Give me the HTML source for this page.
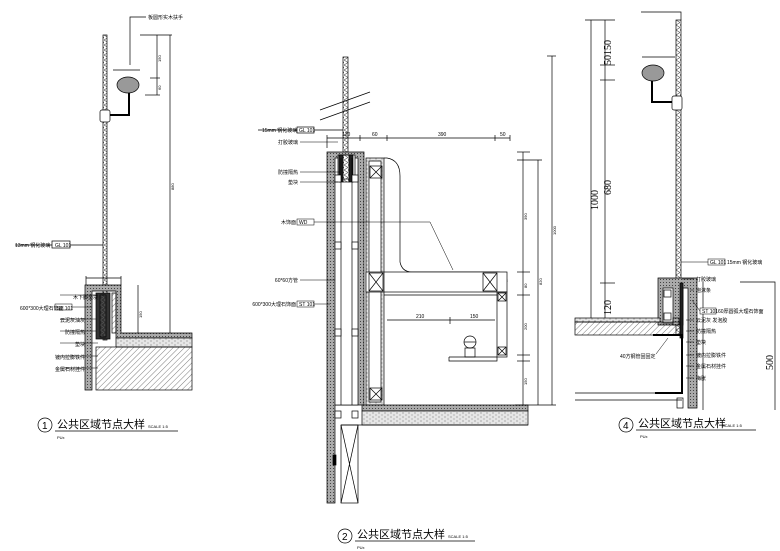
<!DOCTYPE html>
<html><head><meta charset="utf-8"><style>
html,body{margin:0;padding:0;background:#fff;}
svg{display:block;}
text{font-family:"Liberation Sans","Noto Sans CJK SC",sans-serif;fill:#000;}
</style></head><body>
<svg width="780" height="551" viewBox="0 0 780 551" xmlns="http://www.w3.org/2000/svg">
<defs>
<pattern id="h" width="4" height="4" patternUnits="userSpaceOnUse" patternTransform="rotate(45)"><line x1="0" y1="0" x2="0" y2="4" stroke="#444" stroke-width="0.7"/></pattern>
<pattern id="g" width="3" height="3" patternUnits="userSpaceOnUse"><rect width="3" height="3" fill="#aaa"/><rect width="1" height="1" fill="#444"/></pattern>
<pattern id="z" width="4" height="5" patternUnits="userSpaceOnUse"><path d="M0 0 L4 2.5 L0 5" fill="none" stroke="#555" stroke-width="0.6"/></pattern>
<pattern id="d" width="6" height="4" patternUnits="userSpaceOnUse"><rect width="6" height="4" fill="#e6e6e6"/><circle cx="1" cy="1" r="0.5" fill="#444"/><circle cx="4" cy="3" r="0.5" fill="#666"/></pattern>
</defs>
<g stroke="#000" stroke-width="0.7" fill="none">
<!-- ========== Drawing 1 ========== -->
<rect x="103" y="35" width="4" height="305" fill="url(#z)"/>
<polyline points="130,65 130,17 146,17"/>
<ellipse cx="128" cy="85" rx="11" ry="8" fill="#999"/>
<polyline points="129,93 129,115 110,115" stroke-width="2"/>
<rect x="100" y="110" width="10" height="12" rx="2" fill="#fff"/>
<line x1="157" y1="35" x2="157" y2="95"/><line x1="140" y1="35" x2="172" y2="35"/>
<line x1="150" y1="78" x2="160" y2="78"/><line x1="145" y1="95" x2="160" y2="95"/>
<line x1="170" y1="35" x2="170" y2="333"/>
<line x1="113" y1="70" x2="140" y2="70"/>
<line x1="15" y1="245" x2="103" y2="245"/>
<rect x="52" y="241" width="18" height="7" fill="#fff"/>
<line x1="86" y1="278" x2="121" y2="278"/><line x1="86" y1="276" x2="86" y2="285"/><line x1="121" y1="276" x2="121" y2="285"/>
<line x1="138" y1="285" x2="138" y2="333"/>
<path d="M85 285 H121 V333 H192 V338 H116 V291 H92 V390 H85 Z" fill="url(#g)"/>
<rect x="96" y="293" width="14" height="46" fill="#333"/>
<rect x="100" y="295" width="6" height="42" fill="url(#z)"/>
<rect x="112" y="293" width="4" height="40" fill="url(#h)"/>
<rect x="116" y="338" width="76" height="9" fill="url(#d)"/>
<rect x="96" y="347" width="96" height="43" fill="url(#h)"/>
<g stroke-width="0.5">
<line x1="60" y1="295" x2="98" y2="295"/><line x1="72" y1="307" x2="92" y2="307"/><rect x="55" y="304" width="17" height="6" fill="#fff"/>
<line x1="60" y1="319" x2="96" y2="319"/><line x1="60" y1="331" x2="96" y2="331"/><line x1="60" y1="343" x2="98" y2="343"/>
<line x1="60" y1="356" x2="98" y2="356"/><line x1="60" y1="368" x2="98" y2="368"/>
</g>
<circle cx="45" cy="425" r="7"/>
<line x1="55" y1="431" x2="178" y2="431"/>

<!-- ========== Drawing 2 ========== -->
<rect x="343" y="57" width="5" height="95" fill="url(#z)"/>
<line x1="320" y1="110" x2="370" y2="92"/><line x1="320" y1="120" x2="370" y2="102"/>
<line x1="258" y1="130" x2="343" y2="130"/><rect x="297" y="127" width="17" height="6" fill="#fff"/>
<line x1="327" y1="138" x2="510" y2="138"/>
<line x1="327" y1="135" x2="327" y2="148"/><line x1="360" y1="135" x2="360" y2="141"/><line x1="387" y1="135" x2="387" y2="141"/><line x1="495" y1="135" x2="495" y2="141"/><line x1="510" y1="135" x2="510" y2="141"/>
<path d="M327 152 H364 V405 H335 V503 H327 Z" fill="url(#g)"/>
<rect x="335" y="158" width="23" height="247" fill="#fff"/>
<rect x="338" y="155" width="17" height="24" fill="#fff"/>
<rect x="343" y="155" width="6" height="27" fill="url(#z)"/>
<rect x="339" y="155" width="4" height="27" fill="#222"/><rect x="349" y="155" width="4" height="27" fill="#222"/>
<line x1="341" y1="158" x2="341" y2="405"/><line x1="352" y1="158" x2="352" y2="405"/>
<g fill="#fff">
<rect x="335" y="175" width="6" height="7"/><rect x="352" y="175" width="6" height="7"/>
<rect x="335" y="242" width="6" height="7"/><rect x="352" y="242" width="6" height="7"/>
<rect x="335" y="329" width="6" height="7"/><rect x="352" y="329" width="6" height="7"/>
<rect x="335" y="411" width="6" height="7"/><rect x="352" y="411" width="6" height="7"/>
</g>
<rect x="341" y="425" width="17" height="78"/>
<path d="M341 425 L358 503 M358 425 L341 503"/>
<rect x="333" y="455" width="3" height="10" fill="#000"/>
<rect x="366" y="158" width="18" height="247" fill="url(#d)" stroke="none"/>
<rect x="366" y="158" width="18" height="247"/>
<path d="M369 161 H381 V402 H369 Z" fill="#fff"/>
<path d="M384 158 H387 Q400 160 400 176 V262 Q402 272 412 272 H497 Q507 272 507 282"/>
<rect x="366" y="272" width="141" height="20" fill="#fff"/>
<line x1="384" y1="272" x2="384" y2="292"/>
<rect x="369" y="273" width="14" height="18"/><path d="M369 273 L383 291 M383 273 L369 291"/>
<rect x="483" y="273" width="14" height="18"/><path d="M483 273 L497 291 M497 273 L483 291"/>
<rect x="497" y="292" width="10" height="65"/>
<rect x="498" y="293" width="8" height="8"/><path d="M498 293 L506 301 M506 293 L498 301"/>
<rect x="498" y="347" width="8" height="8"/><path d="M498 347 L506 355 M506 347 L498 355"/>
<rect x="370" y="166" width="12" height="12"/><path d="M370 166 L382 178 M382 166 L370 178"/>
<rect x="370" y="388" width="12" height="12"/><path d="M370 388 L382 400 M382 388 L370 400"/>
<line x1="384" y1="295" x2="497" y2="295"/>
<line x1="387" y1="320" x2="495" y2="320"/><line x1="450" y1="317" x2="450" y2="324"/>
<path d="M449 357 H497 M449 357 L449 361 H497 V357"/>
<circle cx="470" cy="342" r="6"/><line x1="464" y1="342" x2="476" y2="342"/><rect x="465" y="348" width="10" height="9"/>
<rect x="362" y="405" width="166" height="6" fill="url(#g)"/>
<rect x="362" y="411" width="166" height="14" fill="url(#d)"/>
<line x1="341" y1="425" x2="528" y2="425"/>
<line x1="523" y1="152" x2="523" y2="405"/><line x1="538" y1="160" x2="538" y2="405"/><line x1="552" y1="56" x2="552" y2="405"/>
<line x1="517" y1="152" x2="530" y2="152"/><line x1="517" y1="160" x2="542" y2="160"/><line x1="517" y1="272" x2="530" y2="272"/><line x1="517" y1="295" x2="530" y2="295"/><line x1="517" y1="355" x2="530" y2="355"/><line x1="517" y1="361" x2="530" y2="361"/>
<line x1="547" y1="56" x2="556" y2="56"/><line x1="515" y1="405" x2="556" y2="405"/>
<g stroke-width="0.5">
<line x1="300" y1="142" x2="338" y2="142"/><line x1="300" y1="172" x2="340" y2="172"/><line x1="300" y1="182" x2="338" y2="182"/>
<polyline points="297,222 430,222 453,270"/><rect x="297" y="219" width="17" height="6" fill="#fff"/>
<line x1="300" y1="280" x2="335" y2="280"/>
<line x1="297" y1="304" x2="330" y2="304"/><rect x="297" y="301" width="17" height="6" fill="#fff"/>
</g>
<circle cx="345" cy="536" r="7"/>
<line x1="355" y1="541" x2="475" y2="541"/>

<!-- ========== Drawing 4 ========== -->
<rect x="676" y="20" width="5" height="315" fill="url(#z)"/>
<polyline points="641,12 681,12 681,20"/>
<ellipse cx="653" cy="73" rx="11" ry="8" fill="#999"/>
<polyline points="652,81 652,102 672,102" stroke-width="2"/>
<rect x="672" y="96" width="10" height="14" rx="2" fill="#fff"/>
<line x1="642" y1="57" x2="675" y2="57"/>
<line x1="591" y1="20" x2="591" y2="322"/><line x1="605" y1="20" x2="605" y2="322"/>
<line x1="585" y1="20" x2="615" y2="20"/><line x1="600" y1="65" x2="615" y2="65"/><line x1="600" y1="80" x2="615" y2="80"/><line x1="600" y1="283" x2="615" y2="283"/><line x1="585" y1="322" x2="615" y2="322"/>
<path d="M658 278 H697 V408 H688 V288 H683 V325 H658 Z" fill="url(#g)"/>
<rect x="663" y="288" width="10" height="35" fill="#fff"/>
<rect x="664" y="290" width="7" height="7"/><rect x="664" y="313" width="7" height="7"/>
<rect x="673" y="318" width="6" height="7"/>
<rect x="680" y="283" width="3" height="55" fill="#222"/>
<rect x="575" y="318" width="85" height="4" fill="url(#d)"/>
<rect x="575" y="322" width="105" height="13" fill="url(#h)"/>
<polyline points="653,335 682,335 682,393 655,393" stroke-width="2"/>
<line x1="575" y1="393" x2="655" y2="393"/><line x1="575" y1="400" x2="682" y2="400"/>
<rect x="677" y="398" width="6" height="10"/>
<line x1="703" y1="282" x2="703" y2="410"/>
<polyline points="740,282 775,282 775,410"/>
<g stroke-width="0.5">
<line x1="681" y1="262" x2="708" y2="262"/><rect x="708" y="259" width="17" height="6" fill="#fff"/>
<line x1="682" y1="279" x2="694" y2="279"/><line x1="690" y1="290" x2="694" y2="290"/>
<line x1="692" y1="300" x2="700" y2="311"/><rect x="700" y="308" width="16" height="6" fill="#fff"/>
<line x1="686" y1="320" x2="694" y2="320"/><line x1="686" y1="331" x2="694" y2="331"/><line x1="686" y1="342" x2="694" y2="342"/><line x1="686" y1="355" x2="694" y2="355"/><line x1="686" y1="366" x2="694" y2="366"/><line x1="686" y1="378" x2="694" y2="378"/>
<line x1="656" y1="354" x2="668" y2="338"/>
</g>
<circle cx="626" cy="425" r="7"/>
<line x1="636" y1="430" x2="756" y2="430"/>
</g>

<!-- ======== TEXT ======== -->
<g font-size="5">
<text x="148" y="19">板圆形实木扶手</text>
<text x="15" y="247">13mm 钢化玻璃</text><text x="55" y="247">GL 101</text>
<text x="98" y="299" text-anchor="end">木下脚垫块</text>
<text x="20" y="310">600*300大理石饰面</text><text x="57" y="310">ST 101</text>
<text x="85" y="322" text-anchor="end">云泥灰油灰</text>
<text x="85" y="334" text-anchor="end">防撞隔热</text>
<text x="85" y="346" text-anchor="end">垫块</text>
<text x="85" y="359" text-anchor="end">镀内拉膨铁件</text>
<text x="85" y="371" text-anchor="end">金属石材挂件</text>
<text x="262" y="132">15mm 钢化玻璃</text><text x="299" y="132">GL 101</text>
<text x="298" y="144" text-anchor="end">打胶玻璃</text>
<text x="298" y="174" text-anchor="end">防撞隔热</text>
<text x="298" y="184" text-anchor="end">垫块</text>
<text x="296" y="224" text-anchor="end">木饰面</text><text x="299" y="224">WD</text>
<text x="298" y="282" text-anchor="end">60*60方管</text>
<text x="296" y="306" text-anchor="end">600*300大理石饰面</text><text x="299" y="306">ST 101</text>
<text x="342" y="136">120</text><text x="372" y="136">60</text><text x="438" y="136">390</text><text x="500" y="136">50</text>
<text x="416" y="318">210</text><text x="470" y="318">150</text>
<text x="710" y="264">GL 101</text><text x="727" y="264">15mm 钢化玻璃</text>
<text x="696" y="281">打胶玻璃</text><text x="696" y="292">泡沫条</text>
<text x="702" y="313">ST 101</text><text x="718" y="313">60厚圆弧大理石饰面</text>
<text x="696" y="322">云泥灰  发泡胶</text><text x="696" y="333">防撞隔热</text><text x="696" y="344">垫块</text>
<text x="696" y="357">镀内拉膨铁件</text><text x="696" y="368">金属石材挂件</text><text x="696" y="380">梅胀</text>
<text x="620" y="358">40方钢管固固定</text>
<text x="57" y="439" font-size="4">PUx</text>
<text x="357" y="549" font-size="4">PUx</text>
<text x="640" y="438" font-size="4">PUx</text>
</g>
<g font-size="4">
<text transform="translate(161,62) rotate(-90)">150</text>
<text transform="translate(161,90) rotate(-90)">60</text>
<text transform="translate(174,190) rotate(-90)">880</text>
<text transform="translate(142,318) rotate(-90)">150</text>
<text transform="translate(527,220) rotate(-90)">390</text>
<text transform="translate(527,288) rotate(-90)">80</text>
<text transform="translate(527,330) rotate(-90)">200</text>
<text transform="translate(527,385) rotate(-90)">150</text>
<text transform="translate(542,285) rotate(-90)">820</text>
<text transform="translate(556,235) rotate(-90)">1000</text>
</g>
<g font-size="10">
<text transform="translate(598,210) rotate(-90)" style="font-family:'Liberation Serif',serif">1000</text>
<text transform="translate(611,65) rotate(-90)" style="font-family:'Liberation Serif',serif">50150</text>
<text transform="translate(611,195) rotate(-90)" style="font-family:'Liberation Serif',serif">680</text>
<text transform="translate(611,315) rotate(-90)" style="font-family:'Liberation Serif',serif">120</text>
<text transform="translate(773,370) rotate(-90)" style="font-family:'Liberation Serif',serif">500</text>
</g>
<g font-size="10">
<text x="42" y="429" font-size="10">1</text>
<text x="57" y="428" font-size="11">公共区域节点大样</text><text x="148" y="428" font-size="4">SCALE 1:5</text>
<text x="342" y="540" font-size="10">2</text>
<text x="357" y="538" font-size="11">公共区域节点大样</text><text x="448" y="538" font-size="4">SCALE 1:5</text>
<text x="623" y="429" font-size="10">4</text>
<text x="638" y="427" font-size="11">公共区域节点大样</text><text x="722" y="427" font-size="4">SCALE 1:5</text>
</g>
</svg>
</body></html>
